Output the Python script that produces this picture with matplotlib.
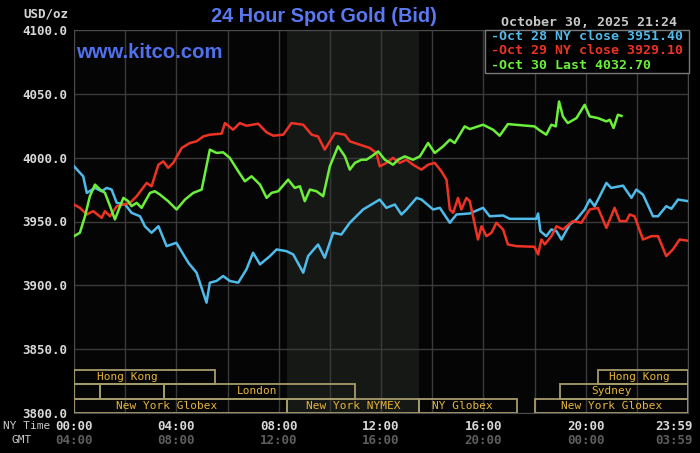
import matplotlib
matplotlib.use("Agg")
import matplotlib.pyplot as plt
from matplotlib.patches import Rectangle
from matplotlib.transforms import blended_transform_factory
import numpy as np

# hours since NY midnight, price in USD/oz
oct28_t = [0.0, 0.36, 0.5, 0.82, 1.08, 1.28, 1.47, 1.67, 2.0, 2.25, 2.58, 2.77, 3.03, 3.3,
           3.62, 4.0, 4.47, 4.79, 5.18, 5.31, 5.57, 5.83, 6.09, 6.42, 6.74, 7.0, 7.27, 7.66,
           7.92, 8.3, 8.57, 8.96, 9.15, 9.54, 9.8, 10.13, 10.45, 10.78, 11.3, 11.95, 12.21,
           12.54, 12.8, 13.0, 13.39, 13.58, 14.04, 14.3, 14.69, 14.95, 15.47, 15.99, 16.25,
           16.77, 17.03, 18.07, 18.14, 18.23, 18.46, 18.66, 18.86, 19.05, 19.38, 19.64, 19.96,
           20.16, 20.35, 20.55, 20.81, 21.0, 21.46, 21.79, 21.98, 22.24, 22.63, 22.83, 23.15,
           23.35, 23.61, 23.98]
oct28_p = [3993.2, 3985.4, 3972.4, 3976.3, 3973.7, 3976.3, 3975.0, 3964.6, 3963.3, 3956.8,
           3954.1, 3946.3, 3941.2, 3946.3, 3930.7, 3933.3, 3917.7, 3909.9, 3886.4, 3902.1,
           3903.4, 3907.3, 3903.4, 3902.1, 3912.5, 3925.5, 3916.4, 3922.9, 3928.1, 3926.8,
           3924.2, 3909.9, 3922.9, 3932.0, 3921.6, 3941.2, 3939.8, 3949.0, 3959.4, 3967.2,
           3960.7, 3963.3, 3955.5, 3959.4, 3968.5, 3967.2, 3959.4, 3960.7, 3949.0, 3955.5,
           3956.3, 3960.7, 3954.1, 3954.7, 3952.1, 3952.1, 3956.3, 3942.4, 3938.5, 3943.8,
           3942.4, 3935.9, 3947.7, 3951.6, 3959.4, 3967.2, 3962.0, 3969.8, 3980.2, 3976.3,
           3978.1, 3968.5, 3975.0, 3971.1, 3954.1, 3954.1, 3962.0, 3960.0, 3967.2, 3966.0]

oct29_t = [0.0, 0.23, 0.5, 0.75, 1.08, 1.21, 1.41, 1.67, 1.93, 2.19, 2.45, 2.84, 3.03, 3.3,
           3.49, 3.68, 3.88, 4.21, 4.53, 4.79, 5.05, 5.31, 5.77, 5.9, 6.22, 6.48, 6.74, 7.2,
           7.53, 7.79, 8.18, 8.5, 8.96, 9.29, 9.54, 9.8, 10.2, 10.59, 10.78, 11.17, 11.56,
           11.82, 11.95, 12.21, 12.47, 12.73, 13.0, 13.25, 13.58, 13.84, 14.1, 14.36, 14.56,
           14.69, 14.82, 15.01, 15.14, 15.34, 15.47, 15.79, 15.93, 16.12, 16.32, 16.51, 16.77,
           16.96, 17.29, 18.0, 18.14, 18.27, 18.4, 18.66, 18.86, 19.11, 19.5, 19.83, 20.16,
           20.48, 20.81, 21.13, 21.33, 21.59, 21.72, 21.91, 22.24, 22.57, 22.83, 23.15, 23.41,
           23.67, 23.98]
oct29_p = [3963.3, 3960.7, 3955.5, 3958.1, 3952.9, 3958.1, 3954.1, 3962.0, 3963.3, 3964.6,
           3969.8, 3980.2, 3977.6, 3994.5, 3997.1, 3992.0, 3995.9, 4007.6, 4011.5, 4012.8,
           4016.6, 4018.0, 4018.8, 4027.1, 4021.9, 4027.1, 4025.0, 4026.6, 4019.8, 4017.2,
           4018.0, 4027.1, 4025.8, 4018.0, 4016.6, 4006.3, 4019.3, 4018.0, 4012.8, 4010.2,
           4007.6, 4003.7, 3993.2, 3995.9, 3999.8, 3995.9, 3998.4, 3994.5, 3990.6, 3994.5,
           3995.9, 3989.3, 3982.8, 3959.4, 3956.8, 3968.5, 3959.4, 3968.5, 3965.9, 3935.9,
           3946.3, 3938.5, 3941.2, 3949.0, 3943.8, 3932.0, 3930.7, 3930.2, 3924.2, 3935.9,
           3932.0, 3938.5, 3946.3, 3943.8, 3950.3, 3949.0, 3959.4, 3960.7, 3945.0, 3960.7,
           3950.3, 3950.3, 3955.5, 3954.1, 3935.9, 3938.5, 3938.5, 3922.9, 3928.1, 3935.9,
           3935.0]

oct30_t = [0.0, 0.23, 0.43, 0.62, 0.82, 1.02, 1.21, 1.41, 1.6, 1.8, 1.93, 2.12, 2.25, 2.45,
           2.64, 2.97, 3.16, 3.36, 3.68, 4.01, 4.34, 4.66, 4.99, 5.31, 5.57, 5.83, 6.09, 6.42,
           6.68, 6.94, 7.27, 7.53, 7.72, 7.98, 8.37, 8.63, 8.83, 9.02, 9.22, 9.48, 9.74, 10.0,
           10.32, 10.59, 10.78, 10.98, 11.24, 11.43, 11.63, 11.89, 12.15, 12.47, 12.67, 12.93,
           13.25, 13.52, 13.84, 14.1, 14.43, 14.69, 14.88, 15.27, 15.47, 15.99, 16.38, 16.64,
           16.96, 18.0, 18.2, 18.46, 18.66, 18.83, 18.96, 19.11, 19.3, 19.64, 19.96, 20.16,
           20.48, 20.81, 20.94, 21.09, 21.26, 21.4]
oct30_p = [3938.5, 3941.2, 3954.1, 3969.8, 3978.9, 3975.0, 3972.4, 3962.0, 3951.6, 3962.0,
           3968.5, 3965.9, 3962.0, 3964.6, 3960.7, 3972.4, 3973.7, 3971.1, 3965.9, 3959.4,
           3967.2, 3972.4, 3975.0, 4006.3, 4003.7, 4004.2, 3999.8, 3989.3, 3981.5, 3985.4,
           3978.9, 3968.5, 3972.4, 3973.7, 3982.8, 3976.3, 3977.6, 3965.9, 3975.0, 3973.7,
           3969.8, 3993.2, 4008.9, 4001.0, 3990.6, 3995.9, 3998.4, 3998.4, 4001.0, 4004.9,
           3998.4, 3994.5, 3998.4, 4001.0, 3998.4, 4001.0, 4011.5, 4003.7, 4008.9, 4014.1,
           4011.5, 4024.5, 4022.4, 4025.8, 4021.9, 4017.2, 4026.3, 4024.5, 4021.4, 4018.0,
           4025.8, 4024.5, 4044.0, 4032.3, 4027.1, 4031.0, 4041.4, 4032.3, 4031.0, 4028.4,
           4029.7, 4023.2, 4033.6, 4032.7]

legend_labels = ["-Oct 28 NY close 3951.40", "-Oct 29 NY close 3929.10", "-Oct 30 Last 4032.70"]
line_colors = ["#4fbbea", "#ee3325", "#6cf03a"]

ny_ticks = ["00:00", "04:00", "08:00", "12:00", "16:00", "20:00", "23:59"]
gmt_ticks = ["04:00", "08:00", "12:00", "16:00", "20:00", "00:00", "03:59"]
tick_hours = [0, 4, 8, 12, 16, 20, 23.45]

# trading sessions: name, start, end, row (0 = bottom), label centre
sessions = [
    ("New York Globex", 0.0, 8.33, 0, 3.63),
    ("New York NYMEX", 8.33, 13.5, 0, 10.9),
    ("NY Globex", 13.5, 17.33, 0, 15.2),
    ("New York Globex", 18.0, 24.0, 0, 21.0),
    ("", 0.0, 1.0, 1, 0.5),
    ("", 1.0, 3.5, 1, 2.25),
    ("London", 3.5, 11.0, 1, 7.15),
    ("Sydney", 19.0, 24.0, 1, 21.0),
    ("Hong Kong", 0.0, 5.5, 2, 2.1),
    ("Hong Kong", 20.5, 24.0, 2, 22.1),
]
nymex_open, nymex_close = 8.33, 13.5

W, H = 700, 453
fig = plt.figure(figsize=(7, 4.53), dpi=100, facecolor="black")
ax = fig.add_axes([74 / W, 1 - 413 / H, 614 / W, 383 / H], facecolor="#050505")

mono = "DejaVu Sans Mono"

ax.axvspan(nymex_open, nymex_close, color="#161816", zorder=0.2, lw=0)
ax.set_xlim(0, 24)
ax.set_ylim(3800, 4100)
ax.set_xticks(np.arange(0, 25, 2))
ax.set_yticks(np.arange(3800, 4101, 50))
ax.grid(True, color="#3a3a3a", lw=1)
ax.set_axisbelow(True)
ax.tick_params(length=0, labelbottom=False, pad=5)
ax.set_yticklabels(["%.1f" % v for v in np.arange(3800, 4101, 50)],
                   fontfamily=mono, fontweight="bold", fontsize=9, color="#d8d8d8")
for s in ax.spines.values():
    s.set_color("#4a4a4a")

for t, p, c in zip([oct28_t, oct29_t, oct30_t], [oct28_p, oct29_p, oct30_p], line_colors):
    ax.plot(t, p, color=c, lw=1.8, zorder=3)

row_h = 11.3
for name, a, b, row, lx in sessions:
    y0 = 3800 + row * row_h
    ax.add_patch(Rectangle((a, y0), b - a, row_h, fill=False, ec="#a59c6c", lw=1.3, zorder=4))
    if name:
        ax.text(lx, y0 + row_h / 2, name, ha="center", va="center", fontfamily=mono,
                fontsize=8, color="#e6b53a", zorder=5)

# x labels in two rows
tr = blended_transform_factory(ax.transData, fig.transFigure)
for h, a, b in zip(tick_hours, ny_ticks, gmt_ticks):
    ax.text(h, 1 - 426 / H, a, transform=tr, ha="center", va="center", fontfamily=mono,
            fontweight="bold", fontsize=9, color="#d8d8d8", clip_on=False)
    ax.text(h, 1 - 441 / H, b, transform=tr, ha="center", va="center", fontfamily=mono,
            fontweight="bold", fontsize=9, color="#5e5e5e", clip_on=False)
fig.text(3 / W, 1 - 426 / H, "NY Time", ha="left", va="center", fontfamily=mono,
         fontsize=8, color="#c8c8c8")
fig.text(22 / W, 1 - 440 / H, "GMT", ha="center", va="center", fontfamily=mono,
         fontsize=8, color="#c8c8c8")

fig.text(68 / W, 1 - 14 / H, "USD/oz", ha="right", va="center", fontfamily=mono,
         fontweight="bold", fontsize=9, color="#d8d8d8")
fig.text(324 / W, 1 - 16 / H, "24 Hour Spot Gold (Bid)", ha="center", va="center",
         fontfamily="Liberation Sans", fontweight="bold", fontsize=14.3, color="#5a78f0")
fig.text(76 / W, 1 - 53 / H, "www.kitco.com", ha="left", va="center",
         fontfamily="Liberation Sans", fontweight="bold", fontsize=14.6, color="#5070ee")
fig.text(677 / W, 1 - 22 / H, "October 30, 2025 21:24", ha="right", va="center",
         fontfamily=mono, fontweight="bold", fontsize=9.5, color="#c8c8c8")

# legend box
fig.add_artist(Rectangle((485 / W, 1 - 73 / H), 204 / W, 43 / H, transform=fig.transFigure,
                         fc="black", ec="#7a7a7a", lw=1, zorder=5))
for i, (lab, c) in enumerate(zip(legend_labels, line_colors)):
    fig.text(491 / W, 1 - (37 + 14 * i) / H, lab, ha="left", va="center", fontfamily=mono,
             fontweight="bold", fontsize=9.5, color=c, zorder=6)

fig.savefig("out.png", dpi=100, facecolor="black")
